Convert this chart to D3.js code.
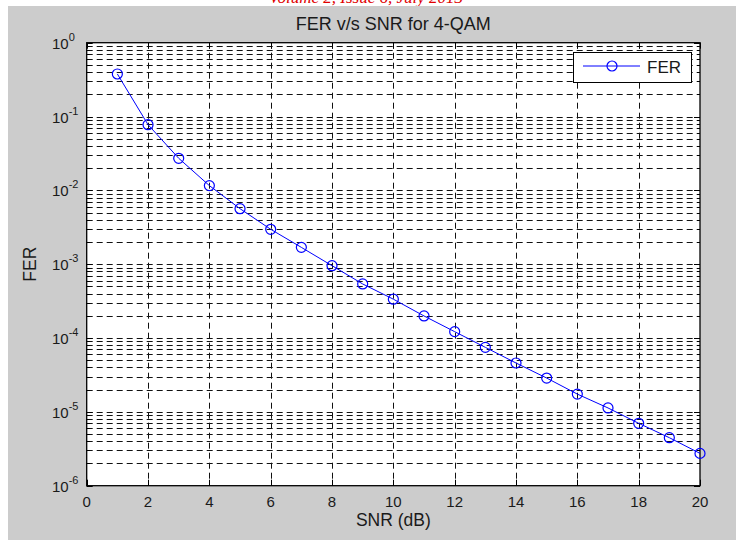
<!DOCTYPE html>
<html>
<head>
<meta charset="utf-8">
<script src="https://cdn.jsdelivr.net/npm/d3@7"></script>
<style>
  body { margin: 0; background: #fff; }
  svg { display: block; }
  text { font-family: "Liberation Sans", Arial, sans-serif; }
</style>
</head>
<body>
<div id="chart"></div>
<script>
// data
const snr = [1, 2, 3, 4, 5, 6, 7, 8, 9, 10, 11, 12, 13, 14, 15, 16, 17, 18, 19, 20];
const fer = [0.377, 0.0776, 0.0272, 0.0116, 0.00565, 0.00297, 0.00169, 0.000955, 0.00054, 0.000336,
             0.000199, 0.000122, 7.48e-5, 4.59e-5, 2.87e-5, 1.74e-5, 1.13e-5, 7.0e-6, 4.47e-6, 2.74e-6];
const xTicks = [0, 2, 4, 6, 8, 10, 12, 14, 16, 18, 20];
const yExps = [0, -1, -2, -3, -4, -5, -6];

const width = 736, height = 540;
const pLeft = 86.7, pRight = 700, pTop = 42.7, pBottom = 485.7;

const svg = d3.select("#chart").append("svg")
  .attr("width", width)
  .attr("height", height);

// cut off line from the page above
svg.append("text")
  .attr("x", 366).attr("y", 3)
  .attr("text-anchor", "middle")
  .attr("fill", "#e00000")
  .style("font-family", "'Liberation Serif', serif")
  .style("font-style", "italic")
  .style("font-size", "17px")
  .text("Volume 2, Issue 6, July 2013");

// figure background
svg.append("rect")
  .attr("x", 8).attr("y", 6)
  .attr("width", width - 8).attr("height", height - 6)
  .attr("fill", "#cccccc");

const x = d3.scaleLinear().domain([0, 20]).range([pLeft, pRight]);
const y = d3.scaleLog().domain([1e-6, 1]).range([pBottom, pTop]);

svg.append("rect")
  .attr("x", pLeft).attr("y", pTop)
  .attr("width", pRight - pLeft).attr("height", pBottom - pTop)
  .attr("fill", "#fff");

// grid
const grid = svg.append("g")
  .attr("stroke", "#111")
  .attr("stroke-width", 1)
  .attr("stroke-dasharray", "6,4");

grid.selectAll(".vg")
  .data(xTicks.slice(1, -1))
  .join("line")
  .attr("x1", d => Math.round(x(d)) + 0.5).attr("x2", d => Math.round(x(d)) + 0.5)
  .attr("y1", pTop).attr("y2", pBottom);

const yMinor = [];
for (let e = -6; e < 0; e++) {
  for (let m = 1; m <= 9; m++) yMinor.push(m * Math.pow(10, e));
}
grid.selectAll(".hg")
  .data(yMinor.filter(d => d > 1e-6))
  .join("line")
  .attr("x1", pLeft).attr("x2", pRight)
  .attr("y1", d => Math.round(y(d)) + 0.5).attr("y2", d => Math.round(y(d)) + 0.5);

// ticks inside the box
const ticks = svg.append("g").attr("stroke", "#000").attr("stroke-width", 1);
xTicks.forEach(d => {
  const px = Math.round(x(d)) + 0.5;
  ticks.append("line").attr("x1", px).attr("x2", px).attr("y1", pBottom).attr("y2", pBottom - 6);
  ticks.append("line").attr("x1", px).attr("x2", px).attr("y1", pTop).attr("y2", pTop + 6);
});
yMinor.concat([1]).forEach(d => {
  const py = Math.round(y(d)) + 0.5;
  const lg = Math.log10(d);
  const len = Math.abs(lg - Math.round(lg)) < 1e-6 ? 6 : 3;
  ticks.append("line").attr("x1", pLeft).attr("x2", pLeft + len).attr("y1", py).attr("y2", py);
  ticks.append("line").attr("x1", pRight).attr("x2", pRight - len).attr("y1", py).attr("y2", py);
});

// box
svg.append("rect")
  .attr("x", pLeft).attr("y", pTop)
  .attr("width", pRight - pLeft).attr("height", pBottom - pTop)
  .attr("fill", "none")
  .attr("stroke", "#000")
  .attr("stroke-width", 1.3);

// x tick labels
svg.append("g").selectAll("text")
  .data(xTicks)
  .join("text")
  .attr("x", d => x(d))
  .attr("y", 507)
  .attr("text-anchor", "middle")
  .attr("fill", "#1a1a1a")
  .style("font-size", "15px")
  .text(d => d);

// y tick labels 10^n
const yl = svg.append("g").selectAll("text")
  .data(yExps)
  .join("text")
  .attr("x", 52)
  .attr("y", d => y(Math.pow(10, d)) + 6)
  .attr("fill", "#1a1a1a")
  .style("font-size", "15px");
yl.append("tspan").text("10");
yl.append("tspan")
  .attr("dy", -8)
  .style("font-size", "11px")
  .text(d => d === 0 ? "0" : "-" + Math.abs(d));

// axis labels and title
svg.append("text")
  .attr("x", (pLeft + pRight) / 2).attr("y", 526)
  .attr("text-anchor", "middle")
  .attr("fill", "#1a1a1a")
  .style("font-size", "17.5px")
  .text("SNR (dB)");

svg.append("text")
  .attr("transform", `translate(36,${(pTop + pBottom) / 2}) rotate(-90)`)
  .attr("text-anchor", "middle")
  .attr("fill", "#1a1a1a")
  .style("font-size", "17.5px")
  .text("FER");

svg.append("text")
  .attr("x", (pLeft + pRight) / 2).attr("y", 30)
  .attr("text-anchor", "middle")
  .attr("fill", "#1a1a1a")
  .style("font-size", "18px")
  .text("FER v/s SNR for 4-QAM");

// series
const line = d3.line().x((d, i) => x(snr[i])).y(d => y(d));
svg.append("path")
  .datum(fer)
  .attr("d", line)
  .attr("fill", "none")
  .attr("stroke", "#0000ff")
  .attr("stroke-width", 1);

svg.append("g").selectAll("circle")
  .data(fer)
  .join("circle")
  .attr("cx", (d, i) => x(snr[i]))
  .attr("cy", d => y(d))
  .attr("r", 5)
  .attr("fill", "none")
  .attr("stroke", "#0000ff")
  .attr("stroke-width", 1.2);

// legend
const lg = svg.append("g");
lg.append("rect")
  .attr("x", 573.5).attr("y", 52.5)
  .attr("width", 118).attr("height", 30)
  .attr("fill", "#fff")
  .attr("stroke", "#000")
  .attr("stroke-width", 1);
lg.append("line")
  .attr("x1", 583).attr("x2", 640).attr("y1", 66).attr("y2", 66)
  .attr("stroke", "#0000ff").attr("stroke-width", 1);
lg.append("circle")
  .attr("cx", 612).attr("cy", 66).attr("r", 5)
  .attr("fill", "none").attr("stroke", "#0000ff").attr("stroke-width", 1.2);
lg.append("text")
  .attr("x", 647).attr("y", 73)
  .attr("fill", "#1a1a1a")
  .style("font-size", "17px")
  .text("FER");
</script>
</body>
</html>
